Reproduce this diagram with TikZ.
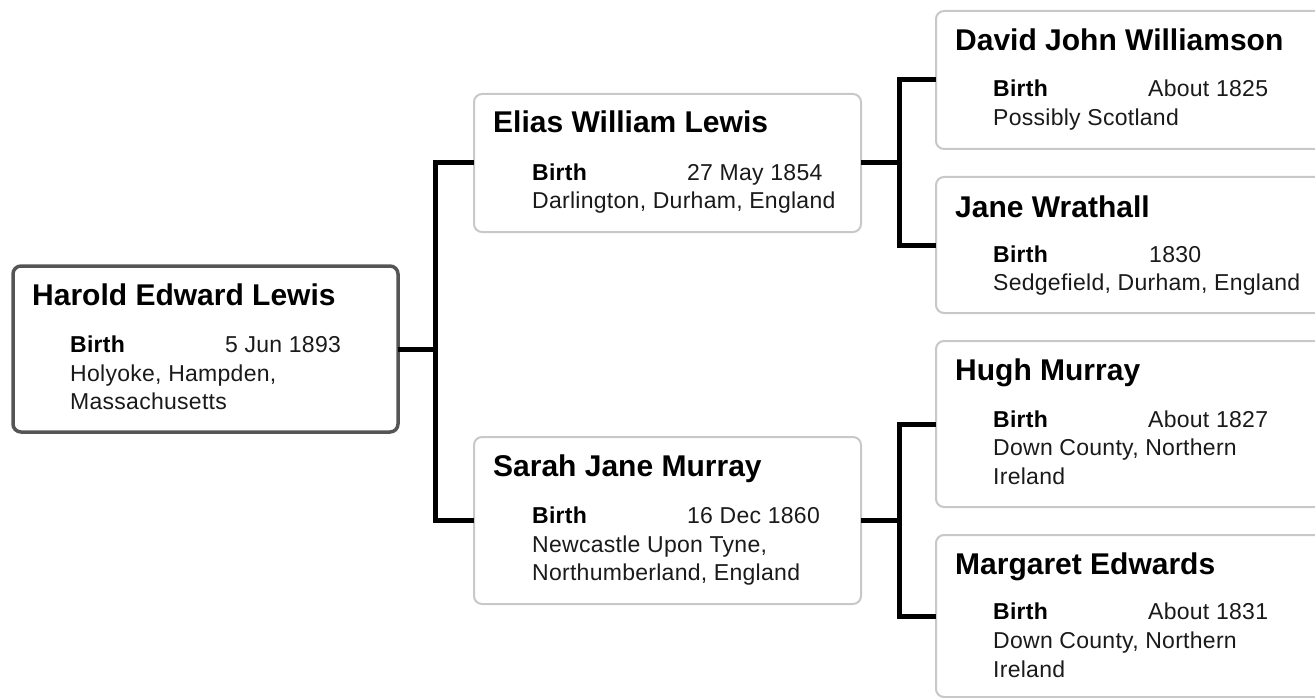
\documentclass[tikz,border=0pt]{standalone}
\usepackage{fontspec}
\setmainfont{Liberation Sans}
\newfontfamily\detfont[LetterSpace=1.2]{Liberation Sans}
\definecolor{mainborder}{HTML}{555555}
\definecolor{lightborder}{HTML}{C8C8C8}
\definecolor{txt}{HTML}{1A1A1A}
\begin{document}
\begin{tikzpicture}[x=1pt,y=-1pt,
  rootbox/.style={draw=mainborder, line width=3.5pt, rounded corners=8pt, fill=white, rectangle, anchor=north west, outer sep=0pt, inner sep=0pt},
  pbox/.style={draw=lightborder, line width=2pt, rounded corners=8pt, fill=white, rectangle, anchor=north west, outer sep=0pt, inner sep=0pt},
  ttl/.style={anchor=base west, inner sep=0pt, font=\fontsize{30}{36}\selectfont\bfseries, text=black},
  lbl/.style={anchor=base west, inner sep=0pt, font=\detfont\fontsize{23}{28}\selectfont\bfseries, text=black},
  det/.style={anchor=base west, inner sep=0pt, font=\detfont\fontsize{23}{28}\selectfont, text=txt},
  conn/.style={line width=5pt, black}]
\useasboundingbox (0,0) rectangle (1315,698);
\clip (0,0) rectangle (1315,698);

% boxes
\node[rootbox, minimum width=385, minimum height=166] (harold) at (13,266) {};
\node[pbox, minimum width=387, minimum height=138] (elias) at (474,94) {};
\node[pbox, minimum width=387, minimum height=167] (sarah) at (474,437) {};
\node[pbox, minimum width=400, minimum height=138] (david) at (936,11) {};
\node[pbox, minimum width=400, minimum height=136] (jane) at (936,177) {};
\node[pbox, minimum width=400, minimum height=166] (hugh) at (936,341) {};
\node[pbox, minimum width=400, minimum height=162] (margaret) at (936,535) {};

% connectors
\draw[conn] (harold.east) -- ++(37,0) coordinate (j1) |- (elias.west);
\draw[conn] (j1) |- (sarah.west);
\draw[conn] (elias.east) -- ++(38,0) coordinate (j2) |- (david.west);
\draw[conn] (j2) |- (jane.west);
\draw[conn] (sarah.east) -- ++(38,0) coordinate (j3) |- (hugh.west);
\draw[conn] (j3) |- (margaret.west);

% Harold
\node[ttl] (haroldT) at (32,305) {Harold Edward Lewis};
\node[lbl] (haroldB) at (70,352) {Birth};
\node[det] (haroldD) at (225,352) {5 Jun 1893};
\node[det] (haroldP1) at (70,381) {Holyoke, Hampden,};
\node[det] (haroldP2) at (70,409) {Massachusetts};

% Elias
\node[ttl] (eliasT) at (493,133) {Elias William Lewis};
\node[lbl] (eliasB) at (532,180) {Birth};
\node[det] (eliasD) at (687,180) {27 May 1854};
\node[det] (eliasP1) at (532,208) {Darlington, Durham, England};

% Sarah
\node[ttl] (sarahT) at (493,476) {Sarah Jane Murray};
\node[lbl] (sarahB) at (532,523) {Birth};
\node[det] (sarahD) at (687,523) {16 Dec 1860};
\node[det] (sarahP1) at (532,552) {Newcastle Upon Tyne,};
\node[det] (sarahP2) at (532,580) {Northumberland, England};

% David
\node[ttl] (davidT) at (955,51) {David John Williamson};
\node[lbl] (davidB) at (993,97) {Birth};
\node[det] (davidD) at (1148,97) {About 1825};
\node[det] (davidP1) at (993,126) {Possibly Scotland};

% Jane
\node[ttl] (janeT) at (955,217) {Jane Wrathall};
\node[lbl] (janeB) at (993,262) {Birth};
\node[det] (janeD) at (1149,262) {1830};
\node[det] (janeP1) at (993,290) {Sedgefield, Durham, England};

% Hugh
\node[ttl] (hughT) at (955,380) {Hugh Murray};
\node[lbl] (hughB) at (993,427) {Birth};
\node[det] (hughD) at (1148,427) {About 1827};
\node[det] (hughP1) at (993,455) {Down County, Northern};
\node[det] (hughP2) at (993,484) {Ireland};

% Margaret
\node[ttl] (margaretT) at (955,574) {Margaret Edwards};
\node[lbl] (margaretB) at (993,619) {Birth};
\node[det] (margaretD) at (1148,619) {About 1831};
\node[det] (margaretP1) at (993,648) {Down County, Northern};
\node[det] (margaretP2) at (993,677) {Ireland};
\end{tikzpicture}
\end{document}
